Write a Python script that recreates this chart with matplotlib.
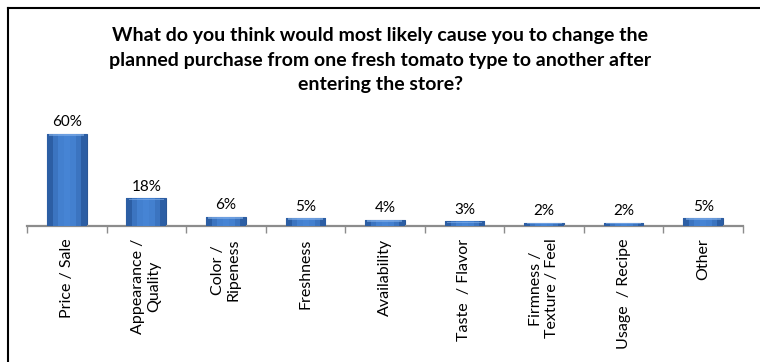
import numpy as np
import matplotlib
matplotlib.use('Agg')
import matplotlib.pyplot as plt
from matplotlib.lines import Line2D

plt.rcParams['font.family'] = ['Lato', 'DejaVu Sans']

title = ('What do you think would most likely cause you to change the\n'
         'planned purchase from one fresh tomato type to another after\n'
         'entering the store?')
categories = ['Price / Sale', 'Appearance /\nQuality', 'Color /\nRipeness', 'Freshness',
              'Availability', 'Taste  / Flavor', 'Firmness /\nTexture / Feel',
              'Usage  / Recipe', 'Other']
values = [60, 18, 6, 5, 4, 3, 2, 2, 5]

fig = plt.figure(figsize=(7.6, 3.62), dpi=100)
ax = fig.add_axes([0.0355, 0.3757, 0.942, 0.2965])

x = np.arange(len(categories))
bars = ax.bar(x, values, width=0.5, color='#3C74C2', edgecolor='#2B5796', linewidth=0.8, zorder=2)

# horizontal gradient + light top bevel to mimic the excel look
grad = np.array([[0.0, 0.6, 0.9, 1.0, 0.9, 0.6, 0.0]])
cmap = matplotlib.colors.LinearSegmentedColormap.from_list('b', ['#2C5EA4', '#4684D4'])
for i, b in enumerate(bars):
    bx, by, bw, bh = b.get_x(), b.get_y(), b.get_width(), b.get_height()
    im = ax.imshow(grad, cmap=cmap, extent=[bx, bx + bw, by, by + bh], aspect='auto', zorder=3)
    im.set_clip_path(b)
    top = min(1.3, bh * 0.4)
    ax.fill_between([bx + 0.03, bx + bw - 0.03], by + bh - top, by + bh - 0.1,
                    color='#86B2EA', alpha=0.6, linewidth=0, zorder=4)
    ax.text(bx + bw / 2, bh + 3, f'{values[i]}%', ha='center', va='bottom',
            fontsize=11, color='#000000')

ax.set_xlim(-0.5, len(categories) - 0.5)
ax.set_ylim(0, 70)
for s in ['top', 'right', 'left']:
    ax.spines[s].set_visible(False)
ax.spines['bottom'].set_color('#8C8C8C')
ax.spines['bottom'].set_linewidth(1.6)
ax.set_yticks([])
ax.set_xticks(x)
ax.set_xticklabels(categories, rotation=90, fontsize=11.5, multialignment='center')
ax.tick_params(axis='x', which='major', length=0, pad=9)
ax.set_xticks(np.arange(-0.5, len(categories)), minor=True)
ax.tick_params(axis='x', which='minor', length=5, width=1, color='#8C8C8C', direction='out')
ax.patch.set_alpha(0)

fig.text(0.5, 0.834, title, ha='center', va='center', fontsize=14, fontweight='bold',
         linespacing=1.55)

# frame lines: top and left only
fig.add_artist(Line2D([8 / 760, 1.0], [1 - 8 / 362, 1 - 8 / 362], color='black', linewidth=1.5,
                      transform=fig.transFigure))
fig.add_artist(Line2D([8 / 760, 8 / 760], [0, 1 - 8 / 362], color='black', linewidth=1.5,
                      transform=fig.transFigure))

fig.savefig('out.png', dpi=100)
